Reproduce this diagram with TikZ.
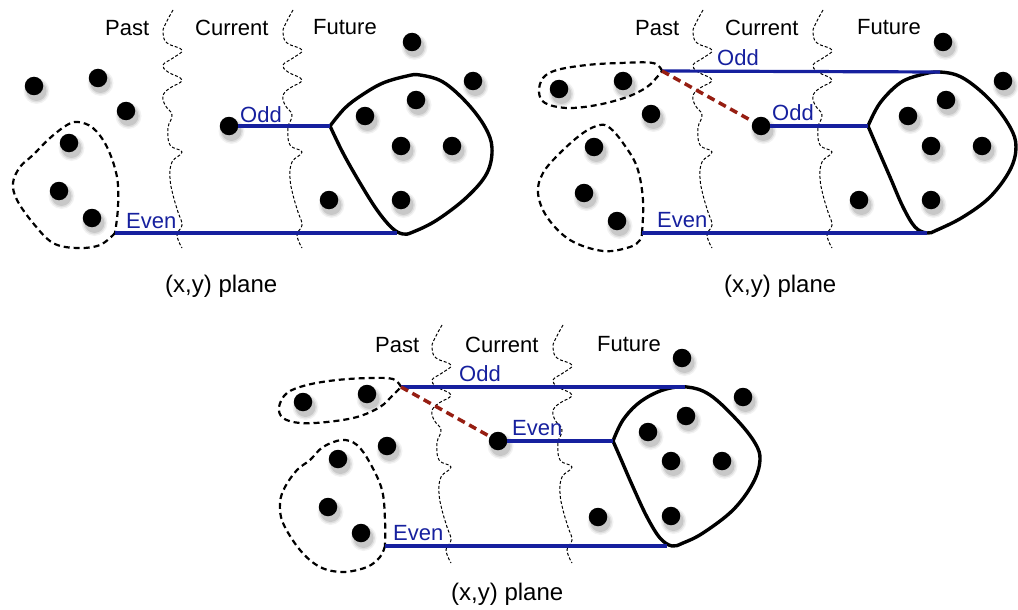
\documentclass[tikz,border=0pt]{standalone}
\usepackage{fontspec}
\setmainfont{Liberation Sans}
\definecolor{lineblue}{RGB}{22,32,158}
\definecolor{linkred}{RGB}{150,30,18}
% a black bead with a soft drop shadow below right
\newcommand\bead[2]{%
  \foreach \r/\o in {13/0.05,11.5/0.08,10/0.1}
    \fill[black,opacity=\o] ([shift={(2.5,5)}]#2) circle (\r pt);
  \node[dot] (#1) at (#2) {};}
\begin{document}
\begin{tikzpicture}[x=1pt,y=-1pt,
  dot/.style={circle,fill=black,inner sep=0pt,minimum size=18.5pt},
  lab/.style={font=\fontsize{22}{26}\selectfont,inner sep=0pt,anchor=base west},
  tag/.style={lab,text=lineblue},
  planecap/.style={font=\fontsize{24}{28}\selectfont,inner sep=0pt,anchor=base west},
  bluebond/.style={draw=lineblue,line width=3.2pt},
  redlink/.style={draw=linkred,line width=3.5pt,dash pattern=on 8pt off 5pt},
  group/.style={draw=black,line width=2.2pt,dash pattern=on 6pt off 4pt,line join=round},
  cluster/.style={draw=black,line width=3.4pt,line join=round},
  wavy/.style={draw=black,line width=1pt,dash pattern=on 3pt off 2pt},
  divider/.pic={\draw[wavy] plot[smooth,tension=0.7] coordinates {(0,0) (-8,15) (-10,23) (-6,33) (9,40) (0,48) (-10,55) (-5,62) (9,70) (-3,78) (-10,85) (-8,95) (-1,105) (-5,118) (-3,135) (9,142) (-1,152) (-3,168) (0,185) (5,202) (9,215) (4,225) (9,238)};}]
\useasboundingbox (0,0) rectangle (1018,610);

% ---------------- first plane ----------------
\pic at (173,10) {divider};
\pic at (293,10) {divider};
\node[lab] (p1past) at (105,36) {Past};
\node[lab] (p1cur) at (195,36) {Current};
\node[lab] (p1fut) at (313,35) {Future};

\bead{p1a}{34,86} \bead{p1b}{98,78} \bead{p1c}{126,111}
\bead{p1d}{69,143} \bead{p1e}{59,191} \bead{p1f}{92,218}
\bead{p1odd}{229,126}
\bead{p1g}{329,200} \bead{p1h}{412,42} \bead{p1i}{473,81}
\bead{p1j}{416,100} \bead{p1k}{365,116} \bead{p1l}{401,146}
\bead{p1m}{452,146} \bead{p1n}{401,200}

\draw[group] plot[smooth,tension=0.6] coordinates {(115,233) (100,245) (77,248) (53,243) (33,223) (17,200) (13,183) (20,167) (33,155) (50,138) (67,125) (78,122) (93,128) (107,147) (117,177) (118,207) (115,233)};
\draw[cluster] plot[smooth,tension=0.6] coordinates {(330,126) (345,108) (362,95) (383,83) (407,76) (420,75) (443,82) (467,103) (485,127) (492,148) (487,173) (467,197) (437,220) (413,232) (403,234) (392,228) (377,210) (360,183) (343,153) (330,126)};

\coordinate (p1join) at (330,126);
\coordinate (p1evenA) at (115,233);
\coordinate (p1evenB) at (397,233);
\draw[bluebond] (p1odd) -- (p1join);
\draw[bluebond] (p1evenA) -- (p1evenB);
\node[tag] (p1oddlab) at (240,122) {Odd};
\node[tag] (p1evenlab) at (126,228) {Even};
\node[planecap] (p1cap) at (165,292) {(x,y) plane};

% ---------------- second plane ----------------
\pic at (703,10) {divider};
\pic at (823,10) {divider};
\node[lab] (p2past) at (635,36) {Past};
\node[lab] (p2cur) at (725,36) {Current};
\node[lab] (p2fut) at (857,35) {Future};

\bead{p2a}{559,89} \bead{p2b}{623,81} \bead{p2c}{651,114}
\bead{p2d}{594,147} \bead{p2e}{584,193} \bead{p2f}{617,221}
\bead{p2odd}{761,126}
\bead{p2g}{859,200} \bead{p2h}{943,42} \bead{p2i}{1003,81}
\bead{p2j}{946,100} \bead{p2k}{908,116} \bead{p2l}{931,146}
\bead{p2m}{982,146} \bead{p2n}{931,200}

\draw[group] plot[smooth,tension=0.6] coordinates {(662,71) (653,63) (620,63) (587,65) (557,70) (543,78) (539,92) (545,103) (567,108) (597,105) (627,97) (647,87) (658,76) (662,71)};
\draw[group] plot[smooth,tension=0.6] coordinates {(642,233) (643,200) (637,167) (623,143) (610,128) (600,125) (583,133) (560,153) (543,173) (538,193) (547,217) (570,240) (603,251) (630,247) (640,240) (642,233)};
\draw[cluster] plot[smooth,tension=0.6] coordinates {(868,126) (880,103) (900,83) (920,75) (940,72) (963,78) (990,100) (1010,127) (1016,147) (1010,170) (990,197) (963,217) (937,230) (927,233) (915,227) (903,207) (890,177) (877,147) (868,126)};

\coordinate (p2tip) at (662,71);
\coordinate (p2top) at (940,72);
\coordinate (p2join) at (868,126);
\coordinate (p2evenA) at (642,233);
\coordinate (p2evenB) at (927,233);
\draw[bluebond] (p2tip) -- (p2top);
\draw[redlink] (p2tip) -- (p2odd);
\draw[bluebond] (p2odd) -- (p2join);
\draw[bluebond] (p2evenA) -- (p2evenB);
\node[tag] (p2oddtop) at (717,66) {Odd};
\node[tag] (p2oddmid) at (772,121) {Odd};
\node[tag] (p2evenlab) at (657,227) {Even};
\node[planecap] (p2cap) at (724,292) {(x,y) plane};

% ---------------- third plane ----------------
\pic at (442,325) {divider};
\pic at (563,325) {divider};
\node[lab] (p3past) at (375,352) {Past};
\node[lab] (p3cur) at (465,352) {Current};
\node[lab] (p3fut) at (597,351) {Future};

\bead{p3a}{303,402} \bead{p3b}{367,394} \bead{p3c}{387,446}
\bead{p3d}{338,459} \bead{p3e}{328,507} \bead{p3f}{361,533}
\bead{p3even}{498,441}
\bead{p3g}{598,517} \bead{p3h}{682,358} \bead{p3i}{743,397}
\bead{p3j}{686,416} \bead{p3k}{648,432} \bead{p3l}{671,461}
\bead{p3m}{722,461} \bead{p3n}{671,516}

\draw[group] plot[smooth,tension=0.6] coordinates {(401,387) (393,379) (370,378) (337,380) (307,385) (287,393) (279,407) (283,418) (300,423) (327,422) (357,417) (380,407) (393,395) (401,387)};
\draw[group] plot[smooth,tension=0.6] coordinates {(385,546) (380,557) (367,567) (343,572) (320,567) (300,550) (283,523) (280,503) (285,487) (297,470) (310,460) (323,447) (342,440) (357,445) (370,463) (382,490) (385,520) (385,546)};
\draw[cluster] plot[smooth,tension=0.6] coordinates {(613,441) (623,420) (640,402) (663,390) (687,387) (710,395) (737,420) (755,443) (760,460) (753,483) (733,510) (703,533) (683,543) (672,546) (660,538) (647,517) (633,487) (620,457) (613,441)};

\coordinate (p3tip) at (401,387);
\coordinate (p3top) at (685,387);
\coordinate (p3join) at (613,441);
\coordinate (p3evenA) at (385,546);
\coordinate (p3evenB) at (667,546);
\draw[bluebond] (p3tip) -- (p3top);
\draw[redlink] (p3tip) -- (p3even);
\draw[bluebond] (p3even) -- (p3join);
\draw[bluebond] (p3evenA) -- (p3evenB);
\node[tag] (p3oddtop) at (459,381) {Odd};
\node[tag] (p3evenmid) at (512,435) {Even};
\node[tag] (p3evenlab) at (393,540) {Even};
\node[planecap] (p3cap) at (451,600) {(x,y) plane};
\end{tikzpicture}
\end{document}
